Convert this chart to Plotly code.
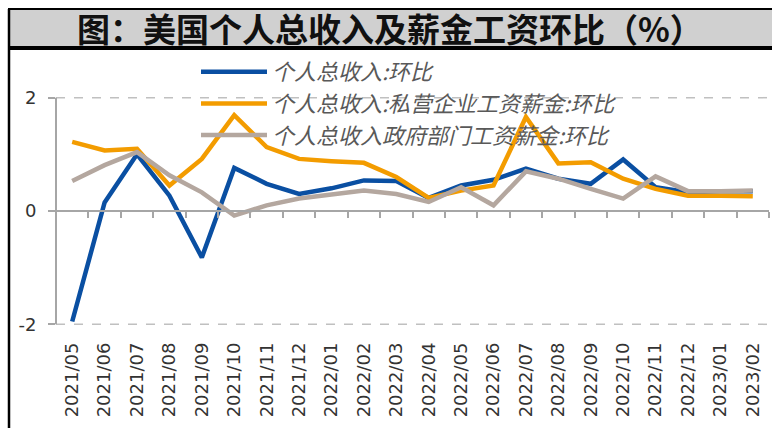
import plotly.graph_objects as go

months = ["2021/05", "2021/06", "2021/07", "2021/08", "2021/09", "2021/10", "2021/11", "2021/12",
          "2022/01", "2022/02", "2022/03", "2022/04", "2022/05", "2022/06", "2022/07", "2022/08",
          "2022/09", "2022/10", "2022/11", "2022/12", "2023/01", "2023/02"]

total_income = [-1.95, 0.15, 1.00, 0.27, -0.82, 0.76, 0.48, 0.30, 0.40, 0.54, 0.53, 0.23,
                0.45, 0.55, 0.75, 0.57, 0.48, 0.91, 0.42, 0.33, 0.35, 0.35]
private_wages = [1.22, 1.07, 1.10, 0.45, 0.92, 1.69, 1.13, 0.92, 0.88, 0.85, 0.60, 0.23,
                 0.36, 0.45, 1.66, 0.84, 0.86, 0.57, 0.39, 0.27, 0.27, 0.26]
gov_wages = [0.53, 0.81, 1.04, 0.63, 0.33, -0.08, 0.10, 0.22, 0.29, 0.36, 0.30, 0.16,
             0.42, 0.10, 0.70, 0.57, 0.39, 0.22, 0.61, 0.35, 0.35, 0.36]

series_names = ["个人总收入:环比", "个人总收入:私营企业工资薪金:环比", "个人总收入政府部门工资薪金:环比"]
colors = ["#0A4FA2", "#F39C00", "#B4A79F"]
y_ticks = [-2, 0, 2]
title_text = "图：美国个人总收入及薪金工资环比（%）"

W, H = 772, 428
ML, MR, MT, MB = 56, 3, 96, 102
pw = W - ML - MR
ph = H - MT - MB


def px_x(p):
    return (p - ML) / pw


def px_y(p):
    return (H - MB - p) / ph


fig = go.Figure()
for name, vals, col in zip(series_names, [total_income, private_wages, gov_wages], colors):
    fig.add_trace(go.Scatter(x=months, y=vals, name=name, mode="lines",
                             line=dict(color=col, width=4.5)))

# empty trace so the zero-line axis (with boundary ticks) is drawn
fig.add_trace(go.Scatter(x=[], y=[], xaxis="x2", yaxis="y", showlegend=False,
                         hoverinfo="skip"))

y_range = [-2.03, 2.03]
zero_pos = (0 - y_range[0]) / (y_range[1] - y_range[0])

grid_shapes = [
    dict(type="line", xref="paper", yref="y", x0=0, x1=1, y0=v, y1=v,
         line=dict(color="#C0C0C0", width=1.5, dash="dash"), layer="below")
    for v in y_ticks if v != 0
]

fig.update_layout(
    width=W, height=H,
    margin=dict(l=ML, r=MR, t=MT, b=MB),
    paper_bgcolor="white", plot_bgcolor="rgba(0,0,0,0)",
    showlegend=True,
    legend=dict(x=px_x(196), y=px_y(51), xanchor="left", yanchor="top",
                bgcolor="rgba(0,0,0,0)", itemwidth=66, tracegroupgap=0,
                font=dict(family="Noto Sans CJK SC", size=22, color="#595959", style="italic")),
    xaxis=dict(type="category", categoryarray=months, range=[-0.5, len(months) - 0.5],
               showline=False, showgrid=False, ticks="", tickangle=-90,
               ticklabelstandoff=12,
               tickfont=dict(family="DejaVu Sans", size=18, color="#333333")),
    xaxis2=dict(overlaying="x", anchor="free", position=zero_pos, side="bottom",
                range=[-0.5, len(months) - 0.5],
                tickvals=[i - 0.5 for i in range(len(months) + 1)],
                showticklabels=False, showgrid=False, zeroline=False,
                showline=True, linecolor="#A6A6A6", linewidth=2,
                ticks="outside", ticklen=6, tickwidth=1.5, tickcolor="#A6A6A6"),
    yaxis=dict(range=y_range, tickvals=y_ticks, ticktext=[str(v) for v in y_ticks],
               showgrid=False, zeroline=False, showline=False,
               ticks="outside", ticklen=7, tickcolor="#A6A6A6", tickwidth=1.5,
               ticklabelstandoff=8,
               tickfont=dict(family="DejaVu Sans", size=18, color="#333333")),
    shapes=grid_shapes + [
        # vertical axis line spanning only the tick range
        dict(type="line", xref="paper", yref="y", x0=0, x1=0, y0=min(y_ticks), y1=max(y_ticks),
             line=dict(color="#A6A6A6", width=2), layer="above"),
        dict(type="rect", xref="paper", yref="paper",
             x0=px_x(9), x1=px_x(780), y0=px_y(48), y1=px_y(9),
             fillcolor="#D0D0D0", line=dict(color="black", width=2), layer="above"),
        dict(type="line", xref="paper", yref="paper",
             x0=px_x(9), x1=px_x(780), y0=px_y(48), y1=px_y(48),
             line=dict(color="black", width=4)),
        dict(type="line", xref="paper", yref="paper",
             x0=px_x(9), x1=px_x(9), y0=px_y(9), y1=px_y(440),
             line=dict(color="black", width=2.5)),
    ],
    annotations=[
        dict(text="<b>" + title_text + "</b>", xref="paper", yref="paper",
             x=px_x(390), y=px_y(28), xanchor="center", yanchor="middle", showarrow=False,
             font=dict(family="Noto Sans CJK SC", size=33, color="#111111")),
    ],
)

fig.write_html("out.html", config={"displayModeBar": False},
               post_script="document.body.style.margin='0px';")
